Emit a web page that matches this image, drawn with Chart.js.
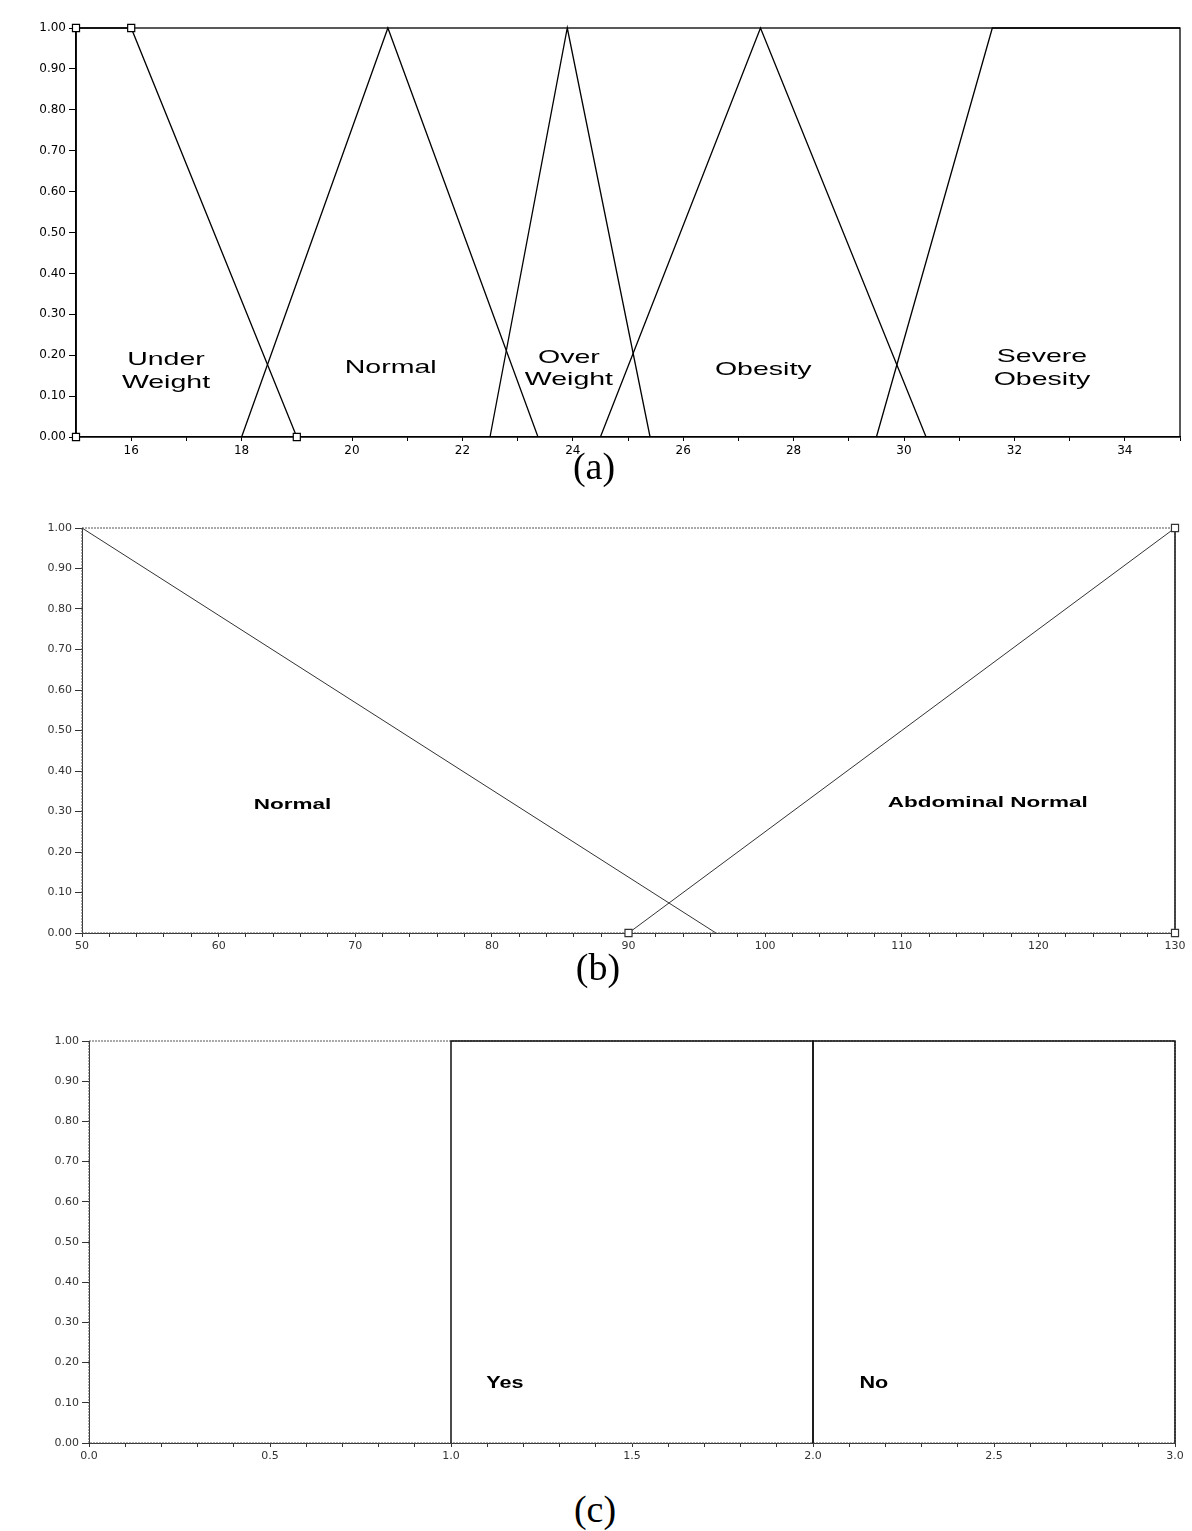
<!DOCTYPE html>
<html>
<head>
<meta charset="utf-8">
<script src="https://cdn.jsdelivr.net/npm/chart.js@4.4.1/dist/chart.umd.min.js"></script>
<style>
  html, body { margin: 0; padding: 0; background: #fff; }
  body { width: 1192px; height: 1531px; position: relative; overflow: hidden; }
  .box { position: absolute; left: 0; width: 1192px; }
  .cap { position: absolute; left: 0; width: 1192px; text-align: center;
         font-family: "Liberation Serif", "Times New Roman", serif; font-size: 38px;
         line-height: 40px; color: #000; }
</style>
</head>
<body>
<div class="box" style="top:0;height:460px"><canvas id="chartA"></canvas></div>
<div class="cap" style="top:446px;left:-2px">(a)</div>
<div class="box" style="top:490px;height:470px"><canvas id="chartB"></canvas></div>
<div class="cap" style="top:947px;left:2px">(b)</div>
<div class="box" style="top:1000px;height:475px"><canvas id="chartC"></canvas></div>
<div class="cap" style="top:1489px;left:-1px">(c)</div>
<script>
// ---------- DATA ----------
// (a) BMI membership functions
const underWeightX   = [15, 15, 16, 19];
const underWeightY   = [0, 1, 1, 0];
const normalBmiX     = [18, 20.65, 23.37];
const normalBmiY     = [0, 1, 0];
const overWeightX    = [22.5, 23.9, 25.4];
const overWeightY    = [0, 1, 0];
const obesityX       = [24.5, 27.4, 30.4];
const obesityY       = [0, 1, 0];
const severeObesityX = [29.5, 31.6, 35];
const severeObesityY = [0, 1, 1];
const bmiLabels      = ['Under Weight', 'Normal', 'Over Weight', 'Obesity', 'Severe Obesity'];

// (b) Waist membership functions
const waistNormalX   = [50, 96.4];
const waistNormalY   = [1, 0];
const abdominalX     = [90, 130, 130];
const abdominalY     = [0, 1, 0];
const waistLabels    = ['Normal', 'Abdominal Normal'];

// (c) Yes / No membership functions
const yesX = [1, 1, 2, 2];
const yesY = [0, 1, 1, 0];
const noX  = [2, 2, 3, 3];
const noY  = [0, 1, 1, 0];
const ynLabels = ['Yes', 'No'];

// Y tick labels shared by all three panels
const yTickLabels = ['0.00','0.10','0.20','0.30','0.40','0.50','0.60','0.70','0.80','0.90','1.00'];

// ---------- HELPERS ----------
const pts = (xs, ys) => xs.map((x, i) => ({ x: x, y: ys[i] }));

const framePlugin = {
  id: 'frame',
  beforeDatasetsDraw(chart, args, o) {
    const a = chart.chartArea, ctx = chart.ctx;
    ctx.save();
    ctx.strokeStyle = o.color; ctx.lineWidth = o.width;
    if (o.dash) ctx.setLineDash(o.dash);
    ctx.strokeRect(a.left, a.top, a.right - a.left, a.bottom - a.top);
    ctx.restore();
  }
};

const regionLabelsPlugin = {
  id: 'regionLabels',
  afterDatasetsDraw(chart, args, o) {
    if (!o.items) return;
    const ctx = chart.ctx, xs = chart.scales.x, ys = chart.scales.y;
    ctx.save();
    ctx.font = o.font; ctx.fillStyle = o.color;
    ctx.textAlign = 'center'; ctx.textBaseline = 'middle';
    o.items.forEach(it => {
      const px = xs.getPixelForValue(it.x);
      it.lines.forEach((ln, i) => {
        const py = ys.getPixelForValue(it.y[i]);
        ctx.save(); ctx.translate(px, py); ctx.scale(o.stretch, 1);
        ctx.fillText(ln, 0, 0); ctx.restore();
      });
    });
    ctx.restore();
  }
};
Chart.register(framePlugin, regionLabelsPlugin);

function lineDs(label, data, color, width, markers) {
  return {
    label: label, data: data, showLine: true, borderColor: color, borderWidth: width,
    backgroundColor: '#fff', pointStyle: 'rect',
    pointRadius: markers ? 5 : 0, pointBorderColor: color, pointBorderWidth: 1.2,
    pointBackgroundColor: '#fff', clip: false, tension: 0
  };
}

function makeChart(id, cfg) {
  const yAxisW = cfg.yAxisW, xAxisH = cfg.xAxisH;
  return new Chart(document.getElementById(id), {
    type: 'scatter',
    data: { datasets: cfg.datasets },
    options: {
      responsive: true, maintainAspectRatio: false, animation: false,
      layout: { padding: cfg.padding },
      plugins: {
        legend: { display: false }, tooltip: { enabled: false },
        frame: cfg.frame,
        regionLabels: cfg.regionLabels
      },
      scales: {
        x: {
          type: 'linear', min: cfg.xMin, max: cfg.xMax,
          afterFit: s => { s.height = xAxisH; },
          border: { display: true, color: cfg.axisColor, width: cfg.axisWidth },
          grid: { display: true, drawOnChartArea: false, drawTicks: true, tickLength: 4, color: cfg.axisColor },
          ticks: {
            stepSize: cfg.xStep, autoSkip: false, maxRotation: 0, padding: 3,
            color: cfg.tickColor, font: { family: 'DejaVu Sans', size: cfg.tickSize },
            callback: cfg.xLabel
          }
        },
        y: {
          type: 'linear', min: 0, max: 1,
          afterFit: s => { s.width = yAxisW; },
          border: { display: true, color: cfg.axisColor, width: cfg.axisWidth },
          grid: { display: true, drawOnChartArea: false, drawTicks: true, tickLength: 7, color: cfg.axisColor },
          ticks: {
            stepSize: 0.1, autoSkip: false, padding: 3,
            color: cfg.tickColor, font: { family: 'DejaVu Sans', size: cfg.tickSize },
            callback: v => yTickLabels[Math.round(v * 10)]
          }
        }
      }
    }
  });
}

// ---------- (a) ----------
makeChart('chartA', {
  padding: { top: 28, left: 0, right: 12, bottom: 1 },
  yAxisW: 76, xAxisH: 22, xMin: 15, xMax: 35, xStep: 1,
  axisColor: '#000', axisWidth: 1.3, tickColor: '#000', tickSize: 12,
  xLabel: v => (Math.round(v) % 2 === 0 ? String(Math.round(v)) : ''),
  frame: { color: '#000', width: 1.3 },
  regionLabels: {
    font: '19px "Liberation Sans", Arial, sans-serif', color: '#000', stretch: 1.5,
    items: [
      { lines: ['Under', 'Weight'], x: 16.63, y: [0.188, 0.132] },
      { lines: [bmiLabels[1]],       x: 20.7,  y: [0.169] },
      { lines: ['Over', 'Weight'],   x: 23.93, y: [0.193, 0.139] },
      { lines: [bmiLabels[3]],       x: 27.45, y: [0.164] },
      { lines: ['Severe', 'Obesity'],x: 32.5,  y: [0.196, 0.139] }
    ]
  },
  datasets: [
    lineDs(bmiLabels[0], pts(underWeightX, underWeightY), '#000', 1.3, true),
    lineDs(bmiLabels[1], pts(normalBmiX, normalBmiY), '#000', 1.3, false),
    lineDs(bmiLabels[2], pts(overWeightX, overWeightY), '#000', 1.3, false),
    lineDs(bmiLabels[3], pts(obesityX, obesityY), '#000', 1.3, false),
    lineDs(bmiLabels[4], pts(severeObesityX, severeObesityY), '#000', 1.3, false)
  ]
});

// ---------- (b) ----------
makeChart('chartB', {
  padding: { top: 38, left: 0, right: 17, bottom: 5 },
  yAxisW: 82, xAxisH: 22, xMin: 50, xMax: 130, xStep: 2,
  axisColor: '#333', axisWidth: 1, tickColor: '#333', tickSize: 11,
  xLabel: v => (Math.round(v) % 10 === 0 ? String(Math.round(v)) : ''),
  frame: { color: '#555', width: 1, dash: [2, 1] },
  regionLabels: {
    font: 'bold 15px "Liberation Sans", Arial, sans-serif', color: '#000', stretch: 1.5,
    items: [
      { lines: [waistLabels[0]], x: 65.4,  y: [0.316] },
      { lines: [waistLabels[1]], x: 116.3, y: [0.321] }
    ]
  },
  datasets: [
    lineDs(waistLabels[0], pts(waistNormalX, waistNormalY), '#333', 1, false),
    lineDs(waistLabels[1], pts(abdominalX, abdominalY), '#333', 1, true)
  ]
});

// ---------- (c) ----------
makeChart('chartC', {
  padding: { top: 41, left: 0, right: 17, bottom: 10 },
  yAxisW: 89, xAxisH: 22, xMin: 0, xMax: 3, xStep: 0.1,
  axisColor: '#333', axisWidth: 1, tickColor: '#333', tickSize: 11,
  xLabel: v => (Math.abs(v * 2 - Math.round(v * 2)) < 1e-6 ? v.toFixed(1) : ''),
  frame: { color: '#555', width: 1, dash: [2, 1] },
  regionLabels: {
    font: 'bold 16px "Liberation Sans", Arial, sans-serif', color: '#000', stretch: 1.35,
    items: [
      { lines: [ynLabels[0]], x: 1.149, y: [0.149] },
      { lines: [ynLabels[1]], x: 2.168, y: [0.149] }
    ]
  },
  datasets: [
    lineDs(ynLabels[0], pts(yesX, yesY), '#111', 1.5, false),
    lineDs(ynLabels[1], pts(noX, noY), '#111', 1.5, false)
  ]
});
</script>
</body>
</html>
